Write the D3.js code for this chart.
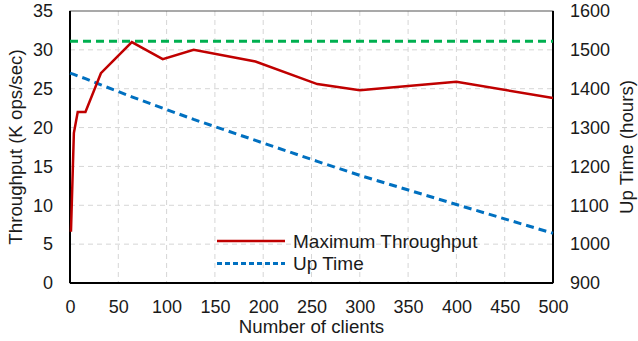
<!DOCTYPE html>
<html>
<head>
<meta charset="utf-8">
<script src="https://cdn.jsdelivr.net/npm/d3@7"></script>
<style>
  body { margin: 0; background: #fff; }
  text { font-family: "Liberation Sans", Arial, sans-serif; fill: #1a1a1a; }
</style>
</head>
<body>
<div id="chart"></div>
<script>
// datos
var clients = [1, 4, 8, 16, 32, 64, 96, 128, 192, 256, 300, 400, 500];
var throughput = [6.6, 19.3, 22, 22, 27, 31, 28.8, 30, 28.5, 25.6, 24.8, 25.9, 23.8];
var upTime = [1440, 1437, 1433, 1426, 1410, 1379, 1350, 1321, 1267, 1213, 1177, 1102, 1028];
var maxLine = 31.1;
var xTicks = [0, 50, 100, 150, 200, 250, 300, 350, 400, 450, 500];
var yLeftTicks = [0, 5, 10, 15, 20, 25, 30, 35];
var yRightTicks = [900, 1000, 1100, 1200, 1300, 1400, 1500, 1600];
var legendNames = ['Maximum Throughput', 'Up Time'];

var width = 638, height = 341;
var margin = {top: 11, right: 85, bottom: 58, left: 70};
var w = width - margin.left - margin.right;
var h = height - margin.top - margin.bottom;

var svg = d3.select('#chart')
    .append('svg')
    .attr('width', width)
    .attr('height', height)
    .append('g')
    .attr('transform', 'translate(' + margin.left + ',' + margin.top + ')');

var x = d3.scaleLinear().domain([0, 500]).range([0, w]);
var yL = d3.scaleLinear().domain([0, 35]).range([h, 0]);
var yR = d3.scaleLinear().domain([900, 1600]).range([h, 0]);

// rejilla
svg.append('g').selectAll('line.gx')
    .data(xTicks.slice(1, -1))
    .enter().append('line')
    .attr('x1', d => x(d)).attr('x2', d => x(d))
    .attr('y1', 0).attr('y2', h)
    .attr('stroke', '#d6d6d6').attr('stroke-width', 1).attr('stroke-dasharray', '5,4');

svg.append('g').selectAll('line.gy')
    .data(yLeftTicks.slice(1, -1))
    .enter().append('line')
    .attr('x1', 0).attr('x2', w)
    .attr('y1', d => yL(d)).attr('y2', d => yL(d))
    .attr('stroke', '#d6d6d6').attr('stroke-width', 1).attr('stroke-dasharray', '5,4');

// ejes
var xAxis = svg.append('g')
    .attr('transform', 'translate(0,' + h + ')')
    .call(d3.axisBottom(x).tickValues(xTicks).tickSize(0).tickPadding(17));
var leftAxis = svg.append('g')
    .call(d3.axisLeft(yL).tickValues(yLeftTicks).tickSize(0).tickPadding(17));
var rightAxis = svg.append('g')
    .attr('transform', 'translate(' + w + ',0)')
    .call(d3.axisRight(yR).tickValues(yRightTicks).tickFormat(d3.format('d')).tickSize(0).tickPadding(17));

[xAxis, leftAxis, rightAxis].forEach(function(a) {
    a.select('.domain').remove();
    a.selectAll('text').attr('font-size', 18).style('fill', '#1a1a1a');
});

// marco
svg.append('rect')
    .attr('x', 0).attr('y', 0).attr('width', w).attr('height', h)
    .attr('fill', 'none').attr('stroke', '#555').attr('stroke-width', 1);
svg.append('line').attr('x1', 0).attr('x2', 0).attr('y1', 0).attr('y2', h)
    .attr('stroke', '#000').attr('stroke-width', 2);
svg.append('line').attr('x1', 0).attr('x2', w).attr('y1', h).attr('y2', h)
    .attr('stroke', '#000').attr('stroke-width', 2);
svg.append('line').attr('x1', w).attr('x2', w).attr('y1', 0).attr('y2', h)
    .attr('stroke', '#000').attr('stroke-width', 2);

// linea verde (maximo)
svg.append('line')
    .attr('x1', x(0)).attr('x2', x(500))
    .attr('y1', yL(maxLine)).attr('y2', yL(maxLine))
    .attr('stroke', '#00b050').attr('stroke-width', 3).attr('stroke-dasharray', '8,5');

var lineT = d3.line().x((d, i) => x(clients[i])).y(d => yL(d));
var lineU = d3.line().x((d, i) => x(i == 0 ? 0 : clients[i])).y(d => yR(d));

svg.append('path')
    .attr('d', lineU(upTime))
    .attr('fill', 'none').attr('stroke', '#0070c0').attr('stroke-width', 3)
    .attr('stroke-dasharray', '8,5');

svg.append('path')
    .attr('d', lineT(throughput))
    .attr('fill', 'none').attr('stroke', '#c00000').attr('stroke-width', 2.5)
    .attr('stroke-linejoin', 'miter');

// leyenda
var legend = svg.append('g').attr('transform', 'translate(147,230)');
var legColors = ['#c00000', '#0070c0'];
var legDash = [null, '5,3'];
legendNames.forEach(function(name, i) {
    legend.append('line')
        .attr('x1', 0).attr('x2', 68)
        .attr('y1', i * 22.6).attr('y2', i * 22.6)
        .attr('stroke', legColors[i]).attr('stroke-width', i == 0 ? 2.5 : 3)
        .attr('stroke-dasharray', legDash[i]);
    legend.append('text')
        .attr('x', 76).attr('y', i * 22.6 + 6.5)
        .attr('font-size', 19)
        .text(name);
});

// titulos
svg.append('text')
    .attr('x', w / 2).attr('y', h + 50)
    .attr('text-anchor', 'middle').attr('font-size', 18.7)
    .text('Number of clients');
svg.append('text')
    .attr('transform', 'translate(' + (-48) + ',' + (h / 2) + ') rotate(-90)')
    .attr('text-anchor', 'middle').attr('font-size', 18.7)
    .text('Throughput (K ops/sec)');
svg.append('text')
    .attr('transform', 'translate(' + (w + 80) + ',' + (h / 2) + ') rotate(-90)')
    .attr('text-anchor', 'middle').attr('font-size', 18.7)
    .text('Up Time (hours)');
</script>
</body>
</html>
